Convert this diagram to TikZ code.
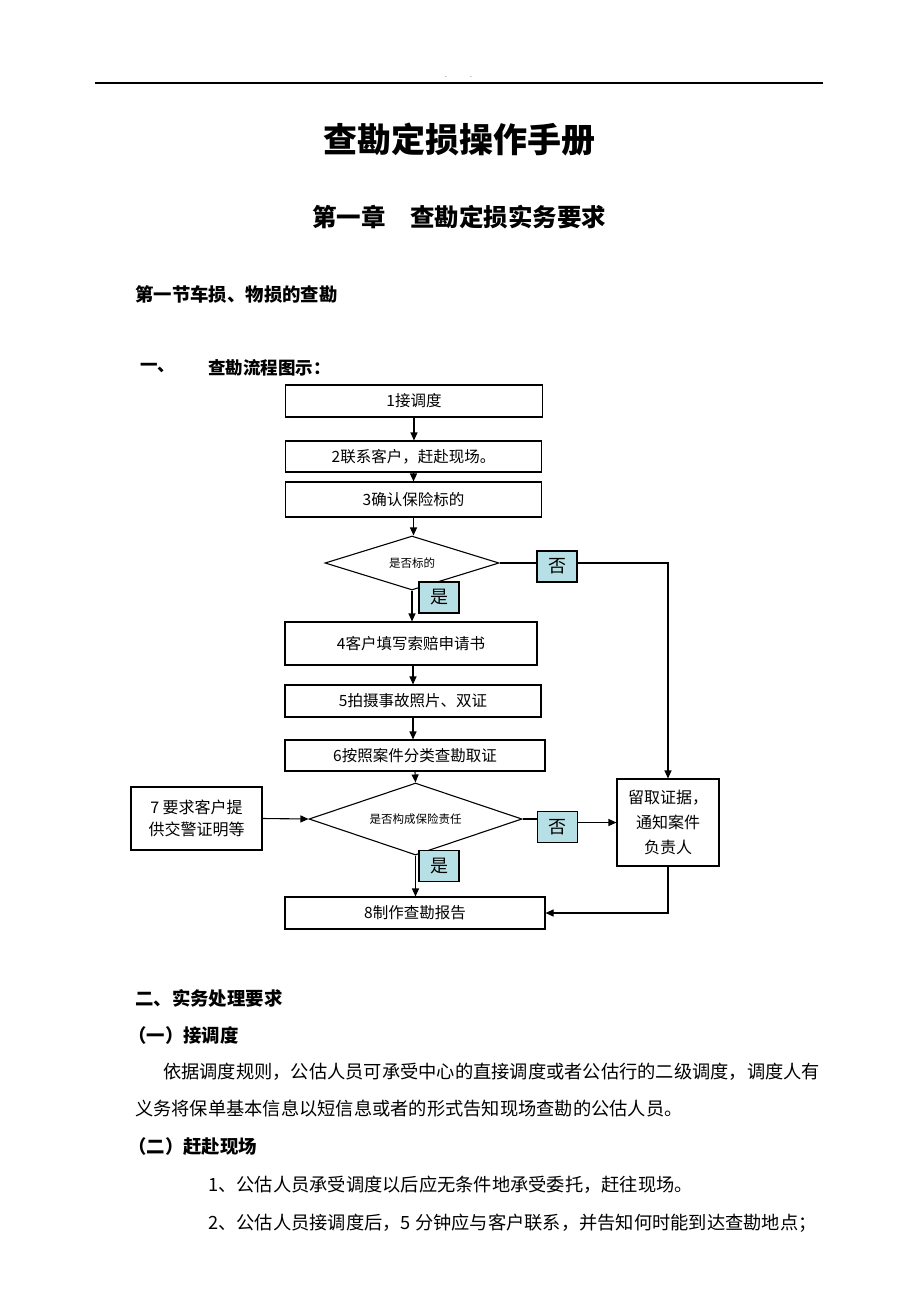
\documentclass[tikz,border=0pt]{standalone}
\usepackage{fontspec}
\newfontfamily\cjk{Noto Sans CJK SC}
\usetikzlibrary{arrows.meta,shapes.geometric,positioning}
\definecolor{labelfill}{RGB}{183,224,230}
\tikzstyle{stepbox}=[
	rectangle,
	draw,
	line width=1.1pt,
	inner sep=0pt,
	font=\cjk\fontsize{15.5}{18}\selectfont
]
\tikzstyle{decision}=[
	diamond,
	draw,
	line width=1.1pt,
	inner sep=0pt,
	font=\cjk\fontsize{11.5}{14}\selectfont
]
\tikzstyle{answer}=[
	rectangle,
	draw,
	line width=1.1pt,
	fill=labelfill,
	minimum width=40pt,
	minimum height=31pt,
	font=\cjk\fontsize{18}{20}\selectfont
]
\tikzstyle{flow}=[
	-{Triangle[length=8pt,width=7pt]},
	line width=1.1pt
]
\tikzstyle{heading}=[
	anchor=west,
	inner sep=0pt,
	font=\cjk\bfseries\fontsize{18.4}{22}\selectfont
]
\tikzstyle{bodytext}=[
	anchor=west,
	inner sep=0pt,
	font=\cjk\fontsize{18.25}{22}\selectfont
]

\begin{document}
\begin{tikzpicture}[x=1pt,y=-1pt]
\fill[white] (0,0) rectangle (920,1302);
\useasboundingbox (0,0) rectangle (920,1302);

% page header
\coordinate (ruleL) at (95,83);
\coordinate (ruleR) at (823,83);
\draw[line width=1.2pt] (ruleL) -- (ruleR);
\node[inner sep=0pt, font=\fontsize{8}{8}\selectfont] (dotA) at (446,77) {.};
\node[inner sep=0pt, font=\fontsize{8}{8}\selectfont] (dotB) at (471,77) {.};

% titles
\node[font=\cjk\bfseries\fontsize{34}{40}\selectfont] (title) at (459,140) {查勘定损操作手册};
\node[font=\cjk\bfseries\fontsize{24.5}{30}\selectfont] (chapter) at (459,217) {第一章\hspace{1em}查勘定损实务要求};
\node[heading] (section) at (135,294) {第一节车损、物损的查勘};
\node[heading, font=\cjk\bfseries\fontsize{17.5}{22}\selectfont] (partA) at (140,368) {一、};
\node[heading, font=\cjk\bfseries\fontsize{17.5}{22}\selectfont] (partAtext) at (208,368) {查勘流程图示：};

% flow chart
\node[stepbox, minimum width=257pt, minimum height=32pt] (receive) at (414,401) {1接调度};
\node[stepbox, minimum width=256pt, minimum height=31pt] (contact) at (413.5,456.5) {2联系客户，赶赴现场。};
\node[stepbox, minimum width=256pt, minimum height=35pt] (confirm) at (413.5,499.5) {3确认保险标的};
\node[decision, aspect=3.2, minimum width=174pt, minimum height=54pt] (isTarget) at (412,563) {是否标的};
\node[answer] (yesA) at (439,597.5) {是};
\node[answer] (noA) at (557,566.5) {否};
\node[stepbox, minimum width=252pt, minimum height=43pt] (claimForm) at (411,643.5) {4客户填写索赔申请书};
\node[stepbox, minimum width=256pt, minimum height=32pt] (photos) at (413,701) {5拍摄事故照片、双证};
\node[stepbox, minimum width=260pt, minimum height=31pt] (evidence) at (415,755.5) {6按照案件分类查勘取证};
\node[decision, aspect=2.96, minimum width=213pt, minimum height=72pt] (isLiable) at (415.5,819) {是否构成保险责任};
\node[stepbox, minimum width=131pt, minimum height=63pt, align=center,
	font=\cjk\fontsize{16}{22}\selectfont] (policeProof) at (196.5,818.5) {7\ 要求客户提\\供交警证明等};
\node[answer] (noB) at (557.5,827) {否};
\node[answer] (yesB) at (439,866) {是};
\node[stepbox, minimum width=102pt, minimum height=87pt, align=center,
	font=\cjk\fontsize{16}{25}\selectfont] (keepProof) at (668,822.5) {留取证据，\\通知案件\\负责人};
\node[stepbox, minimum width=260pt, minimum height=32pt] (report) at (415,913) {8制作查勘报告};

\draw[flow] (receive.south) -- (receive.south |- contact.north);
\draw[flow] (contact.south) -- (contact.south |- confirm.north);
\draw[flow] (confirm.south) -- (confirm.south |- isTarget.north);
\draw[flow] (isTarget.south) -- (isTarget.south |- claimForm.north);
\draw[line width=1.1pt] (isTarget.east) -- (noA.west |- isTarget.east);
\draw[flow] (noA.east |- isTarget.east) -| (keepProof.north);
\draw[flow] (claimForm.south -| photos.north) -- (photos.north);
\draw[flow] (photos.south) -- (photos.south |- evidence.north);
\draw[flow] (evidence.south) -- (isLiable.north);
\draw[flow] (policeProof.east) -- (isLiable.west);
\draw[line width=1.1pt] (isLiable.east) -- (noB.west |- isLiable.east);
\draw[flow] (noB.east |- keepProof.west) -- (keepProof.west);
\draw[flow] (isLiable.south) -- (isLiable.south |- report.north);
\draw[flow] (keepProof.south) |- (report.east);

% text below the chart
\node[heading] (partB) at (135,998) {二、实务处理要求};
\node[heading] (itemOne) at (128,1035) {（一）接调度};
\node[bodytext] (paraOneA) at (163,1072) {依据调度规则，公估人员可承受中心的直接调度或者公估行的二级调度，调度人有};
\node[bodytext] (paraOneB) at (135,1109) {义务将保单基本信息以短信息或者的形式告知现场查勘的公估人员。};
\node[heading] (itemTwo) at (128,1147) {（二）赶赴现场};
\node[bodytext] (paraTwoA) at (208,1185) {1、公估人员承受调度以后应无条件地承受委托，赶往现场。};
\node[bodytext] (paraTwoB) at (208,1223) {2、公估人员接调度后，5 分钟应与客户联系，并告知何时能到达查勘地点；};
\end{tikzpicture}
\end{document}
